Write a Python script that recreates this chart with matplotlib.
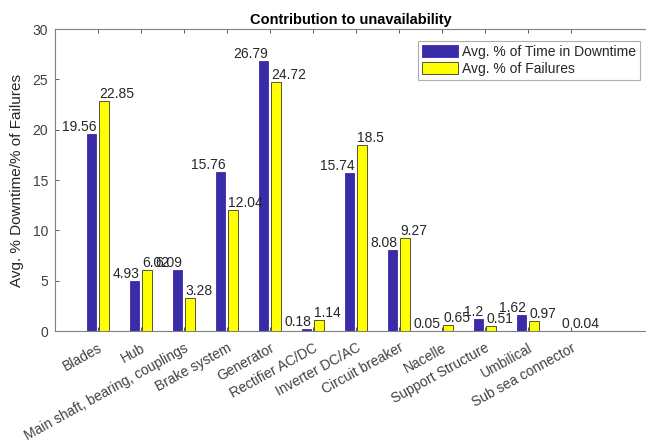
import numpy as np
import matplotlib
matplotlib.use("Agg")
import matplotlib.pyplot as plt

plt.rcParams['font.family'] = ['Liberation Sans', 'DejaVu Sans']

components = ["Blades", "Hub", "Main shaft, bearing, couplings", "Brake system",
              "Generator", "Rectifier AC/DC", "Inverter DC/AC", "Circuit breaker",
              "Nacelle", "Support Structure", "Umbilical", "Sub sea connector"]
downtime_pct = [19.56, 4.93, 6.09, 15.76, 26.79, 0.18, 15.74, 8.08, 0.05, 1.2, 1.62, 0]
failures_pct = [22.85, 6.02, 3.28, 12.04, 24.72, 1.14, 18.5, 9.27, 0.65, 0.51, 0.97, 0.04]
yticks = [0, 5, 10, 15, 20, 25, 30]

blue = "#3a2ba8"
yellow = "#ffff00"
edge = "#3a3a20"
text_col = "#262626"

fig = plt.figure(figsize=(6.46, 4.48), dpi=100)
ax = fig.add_axes([0.0851, 0.261, 0.9149, 0.674])

x = np.arange(1, len(components) + 1)
w = 0.22
off = 0.145
ax.bar(x - off, downtime_pct, w, color=blue, edgecolor=blue, linewidth=0.6,
       label="Avg. % of Time in Downtime", zorder=2)
ax.bar(x + off, failures_pct, w, color=yellow, edgecolor=edge, linewidth=0.6,
       label="Avg. % of Failures", zorder=2)

def fmt(v):
    s = f"{v:.2f}".rstrip("0").rstrip(".")
    return s if s else "0"

for xi, v in zip(x, downtime_pct):
    ax.text(xi - off + w / 2, v, fmt(v), ha="right", va="bottom",
            fontsize=10, color=text_col, zorder=3)
for xi, v in zip(x, failures_pct):
    ax.text(xi + off - w / 2, v, fmt(v), ha="left", va="bottom",
            fontsize=10, color=text_col, zorder=3)

ax.set_xlim(0, 13.75)
ax.set_ylim(0, 30)
ax.set_yticks(yticks)
ax.set_xticks(x)
ax.set_xticklabels(components, rotation=29, ha="right", rotation_mode="anchor")
ax.tick_params(axis="both", direction="in", labelsize=10, colors="#404040",
               length=3, width=0.6, top=True, pad=5)
ax.tick_params(axis="x", pad=7)
for s in ["left", "bottom", "top"]:
    ax.spines[s].set_color("#808080")
    ax.spines[s].set_linewidth(0.8)
ax.spines["right"].set_visible(False)

ax.set_title("Contribution to unavailability", fontsize=10.5, fontweight="bold",
             color="black", pad=4)
ax.set_ylabel("Avg. % Downtime/% of Failures", fontsize=11, color=text_col, labelpad=6)

leg = ax.legend(loc="upper right", bbox_to_anchor=(0.9975, 0.975), fontsize=10,
                frameon=True, fancybox=False, borderpad=0.3, handlelength=2.6,
                handleheight=1.0, handletextpad=0.3, borderaxespad=0.3,
                labelspacing=0.2)
leg.get_frame().set_edgecolor("#9a9a9a")
leg.get_frame().set_linewidth(0.8)
for t in leg.get_texts():
    t.set_color(text_col)

fig.savefig("out.png", dpi=100)
